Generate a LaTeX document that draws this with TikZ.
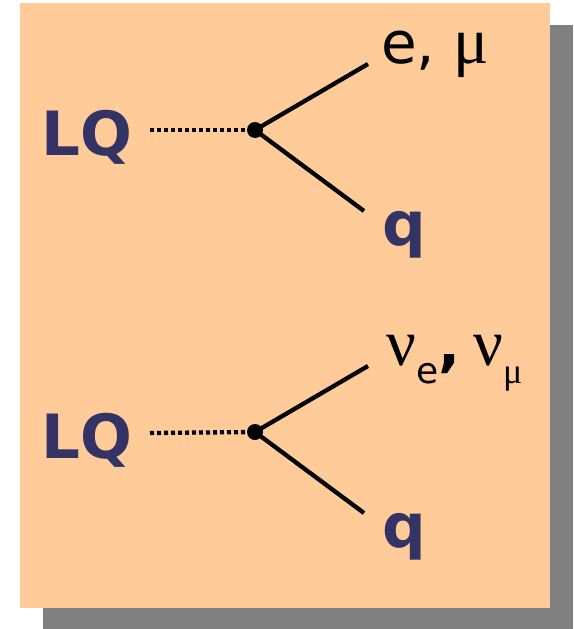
\documentclass[tikz,border=0pt]{standalone}
\usepackage{fontspec}
\setmainfont{DejaVu Sans}
\newfontfamily\griegafont{Liberation Serif}
\definecolor{lqDurazno}{HTML}{FFCB99}
\definecolor{lqMarino}{HTML}{333366}
\definecolor{lqSombra}{HTML}{808080}
\usetikzlibrary{
	positioning
}
\tikzset{
	particula/.style={
		font=\fontsize{61}{61}\selectfont\bfseries,
		text=lqMarino,
		anchor=base west,
		inner sep=0pt
	},
	lepton/.style={
		font=\fontsize{58}{58}\selectfont,
		anchor=base west,
		inner sep=0pt
	},
	linea/.style={
		line width=4.3pt,
		black
	},
	escalar/.style={
		line width=4.3pt,
		dash pattern=on 4pt off 3pt,
		black
	},
	vertice/.style={
		circle,
		fill=black,
		inner sep=0pt,
		minimum size=16pt
	}
}
\newcommand{\Griega}[1]{{\griegafont\fontsize{66}{66}\selectfont #1}}
\newcommand{\Sub}[1]{\raisebox{-18pt}{\fontsize{36}{36}\selectfont #1}}

\begin{document}
\begin{tikzpicture}[x=1pt,y=-1pt]
		\useasboundingbox (0,0) rectangle (573,629);
		\fill[lqSombra] (43,25) rectangle (573,629);
		\fill[lqDurazno] (20,3) rectangle (550,608);
		% desintegracion a leptones cargados
		\node[particula] (lq1) at (41,155) {LQ};
		\coordinate (s1) at (150,130);
		\node[vertice] (v1) at (255,130) {};
		\coordinate (f1) at (368,64);
		\coordinate (g1) at (364,211);
		\draw[escalar] (s1) -- (v1.center);
		\draw[linea] (v1.center) -- (f1);
		\draw[linea] (v1.center) -- (g1);
		\node[lepton] (l1) at (381,63) {e, \Griega{μ}};
		\node[particula] (q1) at (382,245) {q};
		% desintegracion a neutrinos
		\node[particula] (lq2) at (41,458) {LQ};
		\coordinate (s2) at (150,433);
		\node[vertice] (v2) at (255,432) {};
		\coordinate (f2) at (368,366);
		\coordinate (g2) at (364,513);
		\draw[escalar] (s2) -- (v2.center);
		\draw[linea] (v2.center) -- (f2);
		\draw[linea] (v2.center) -- (g2);
		\node[lepton] (l2) at (386,365) {\Griega{ν}\Sub{e}\textbf{,}\hspace{13pt}\Griega{ν}\Sub{\griegafont μ}};
		\node[particula] (q2) at (382,547) {q};
	\end{tikzpicture}
\end{document}
